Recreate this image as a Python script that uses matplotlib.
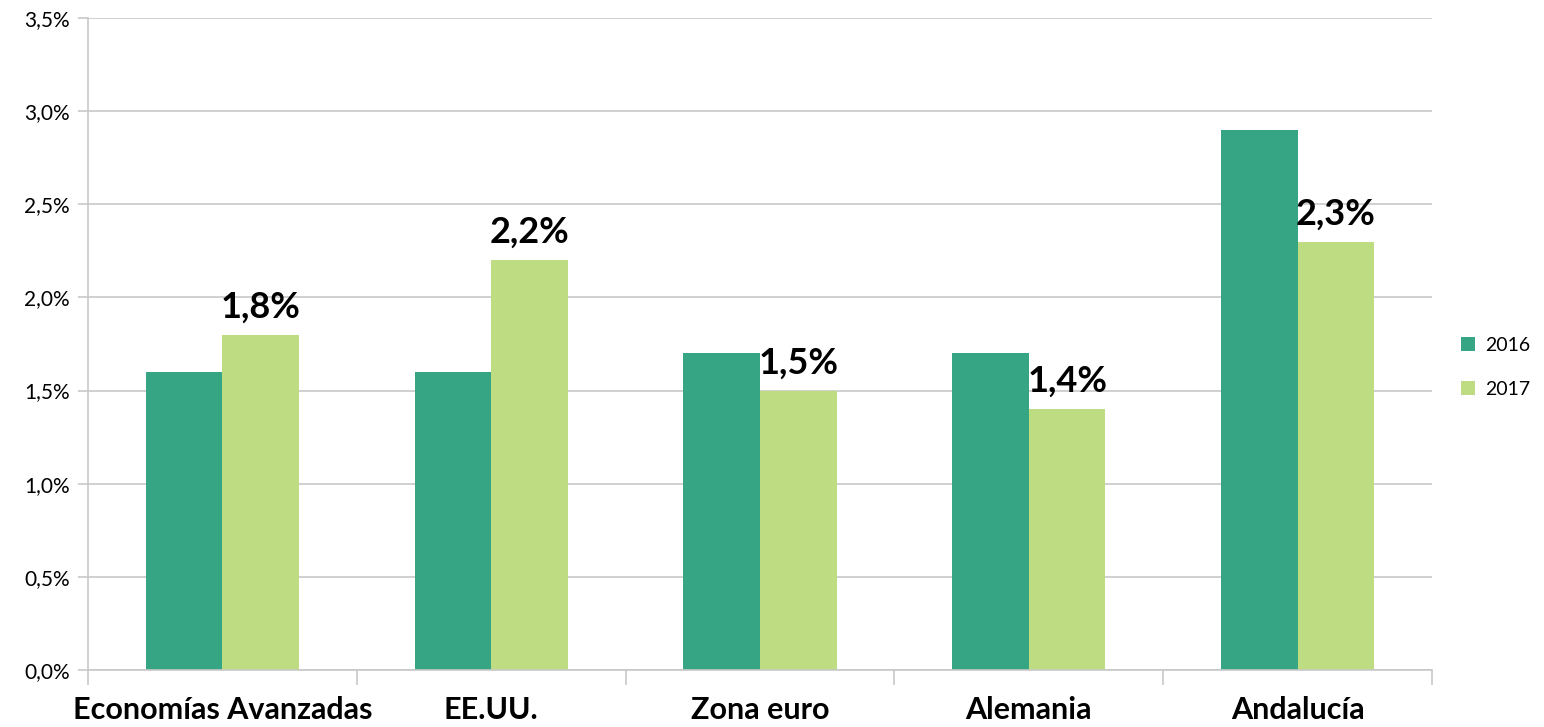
import matplotlib
matplotlib.use("Agg")
import matplotlib.pyplot as plt
from matplotlib.ticker import FuncFormatter, FixedLocator
import numpy as np

plt.rcParams["font.family"] = ["Lato", "DejaVu Sans"]

# data
categories = ["Economías Avanzadas", "EE.UU.", "Zona euro", "Alemania", "Andalucía"]
series_labels = ["2016", "2017"]
values_2016 = [1.6, 1.6, 1.7, 1.7, 2.9]
values_2017 = [1.8, 2.2, 1.5, 1.4, 2.3]

c2016 = "#35a583"
c2017 = "#bedc82"
grid_c = "#c8c8c8"

fig = plt.figure(figsize=(15.44, 7.27), dpi=100)
ax = fig.add_axes([0.057, 0.0784, 0.8705, 0.8968])

x = np.arange(len(categories))
w = 0.285
ax.bar(x - w / 2, values_2016, w, color=c2016, label=series_labels[0], zorder=2)
bars17 = ax.bar(x + w / 2, values_2017, w, color=c2017, label=series_labels[1], zorder=2)

for b, v in zip(bars17, values_2017):
    ax.text(b.get_x() + b.get_width() / 2, v + 0.06, f"{v:.1f}%".replace(".", ","),
            ha="center", va="bottom", fontsize=26, fontweight="bold", zorder=3)

ax.set_xlim(-0.5, len(categories) - 0.5)
ax.set_ylim(0, 3.5)
ax.set_yticks(np.arange(0, 3.51, 0.5))
ax.yaxis.set_major_formatter(FuncFormatter(lambda v, p: f"{v:.1f}%".replace(".", ",")))
ax.grid(axis="y", color=grid_c, linewidth=1.2, zorder=0)

# category boundaries as ticks, names on minor ticks
ax.xaxis.set_major_locator(FixedLocator(np.arange(-0.5, len(categories), 1.0)))
ax.xaxis.set_minor_locator(FixedLocator(x))
ax.set_xticklabels([])
ax.set_xticklabels(categories, minor=True, fontsize=22, fontweight="bold")
ax.tick_params(axis="x", which="major", length=11, color=grid_c, width=1.2)
ax.tick_params(axis="x", which="minor", length=0, pad=19)
ax.tick_params(axis="y", length=7, color=grid_c, width=1.2, labelsize=15, pad=6)

for s in ["top", "right"]:
    ax.spines[s].set_visible(False)
for s in ["left", "bottom"]:
    ax.spines[s].set_color(grid_c)
    ax.spines[s].set_linewidth(1.2)

fig.legend(loc="center left", bbox_to_anchor=(0.941, 0.495), frameon=False,
           fontsize=14, handlelength=0.75, handleheight=0.75, labelspacing=1.4,
           handletextpad=0.5, borderaxespad=0)

fig.savefig("out.png", dpi=100)
